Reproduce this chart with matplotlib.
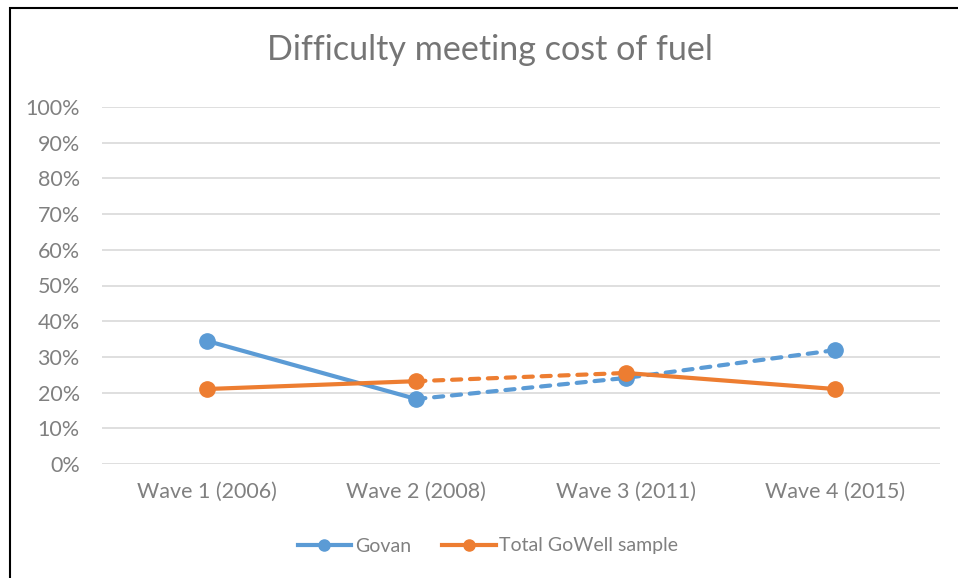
import matplotlib.pyplot as plt
from matplotlib.patches import Rectangle
from matplotlib.lines import Line2D
from matplotlib.ticker import PercentFormatter

waves = ['Wave 1 (2006)', 'Wave 2 (2008)', 'Wave 3 (2011)', 'Wave 4 (2015)']
govan = [34.5, 18.2, 24.1, 31.9]
total_gowell = [21.0, 23.2, 25.5, 21.0]

blue = '#5B9BD5'
orange = '#ED7D31'
grey = '#808080'

plt.rcParams['font.family'] = ['Lato', 'DejaVu Sans']

fig = plt.figure(figsize=(9.58, 5.78), dpi=100)
ax = fig.add_axes([102 / 958, 1 - 464 / 578, 838 / 958, 357 / 578])

x = list(range(len(waves)))
lw = 3.0
ms = 11
dash = (0, (2.2, 2.1))

# Govan: solid first segment, dashed after
ax.plot(x[:2], govan[:2], color=blue, lw=lw, solid_capstyle='round')
ax.plot(x[1:], govan[1:], color=blue, lw=lw, ls=dash, dash_capstyle='round')
ax.plot(x, govan, ls='none', marker='o', ms=ms, color=blue)

# Total GoWell: solid, dashed, solid
ax.plot(x[:2], total_gowell[:2], color=orange, lw=lw, solid_capstyle='round')
ax.plot(x[1:3], total_gowell[1:3], color=orange, lw=lw, ls=dash, dash_capstyle='round')
ax.plot(x[2:], total_gowell[2:], color=orange, lw=lw, solid_capstyle='round')
ax.plot(x, total_gowell, ls='none', marker='o', ms=ms, color=orange)

ax.set_xlim(-0.5, len(waves) - 0.5)
ax.set_ylim(0, 100)
ax.set_yticks(range(0, 101, 10))
ax.yaxis.set_major_formatter(PercentFormatter(decimals=0))
ax.set_xticks(x)
ax.set_xticklabels(waves)
ax.grid(axis='y', color='#D9D9D9', lw=1.2)
ax.set_axisbelow(True)
for s in ax.spines.values():
    s.set_visible(False)
ax.tick_params(length=0, colors=grey, labelsize=15.5)
ax.tick_params(axis='y', pad=16)
ax.tick_params(axis='x', pad=13)

fig.text(490 / 958, 1 - 50 / 578, 'Difficulty meeting cost of fuel',
         ha='center', va='center', fontsize=24.6, color='#757575')

handles = [Line2D([], [], color=blue, lw=lw, marker='o', ms=8),
           Line2D([], [], color=orange, lw=lw, marker='o', ms=8)]
fig.legend(handles, ['Govan', 'Total GoWell sample'], loc='center',
           bbox_to_anchor=(488 / 958, 1 - 546 / 578), ncol=2, frameon=False,
           fontsize=14, labelcolor=grey, handlelength=2.75, handletextpad=0.2,
           columnspacing=1.6, borderpad=0, borderaxespad=0)

# chart border
fig.patches.append(Rectangle((9.5 / 958, -0.1), 1.2, 1 - 8.5 / 578 + 0.1,
                             transform=fig.transFigure, fill=False,
                             ec='black', lw=1.5))

fig.savefig('out.png', dpi=100)
